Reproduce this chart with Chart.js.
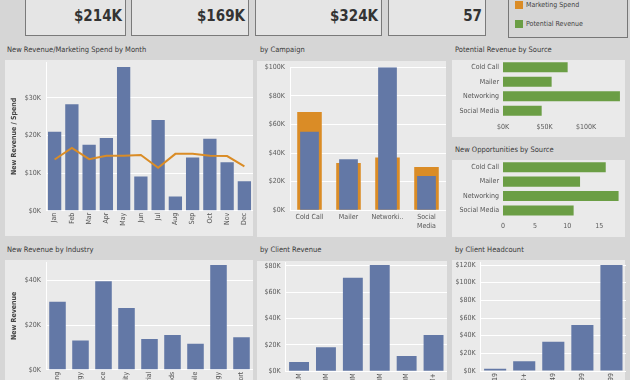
<!DOCTYPE html>
<html>
<head>
<meta charset="utf-8">
<script src="https://cdn.jsdelivr.net/npm/chart.js@4.4.1/dist/chart.umd.min.js"></script>
<style>
  html, body { margin: 0; padding: 0; width: 630px; height: 380px; overflow: hidden; background: #d6d6d6;
    font-family: "DejaVu Sans Condensed", "DejaVu Sans", sans-serif; }
  .card { position: absolute; top: -6px; height: 42px; background: #e5e5e5; border: 1px solid #7a7a7a; box-sizing: border-box; }
  .kpi { position: absolute; right: 3px; top: 12px; font-weight: bold; font-size: 15px; line-height: 18px; color: #333; }
  .legend { position: absolute; left: 508px; top: -6px; width: 120px; height: 44px; border: 1px solid #777; box-sizing: border-box; }
  .sw { position: absolute; left: 6px; width: 8px; height: 8px; }
  .lt { position: absolute; left: 17px; font-size: 7px; line-height: 9px; color: #444; }
  .panel { position: absolute; background: #eaeaea; }
  .title { position: absolute; font-size: 7.5px; line-height: 10px; color: #3a3a3a; white-space: nowrap; }
  .box { position: absolute; }
</style>
</head>
<body>

<div class="card" style="left:25px;width:101px"><div class="kpi" id="kpi1"></div></div>
<div class="card" style="left:131px;width:118px"><div class="kpi" id="kpi2"></div></div>
<div class="card" style="left:255px;width:127px"><div class="kpi" id="kpi3"></div></div>
<div class="card" style="left:388px;width:98px"><div class="kpi" id="kpi4"></div></div>

<div class="legend">
  <div class="sw" style="top:6px;background:#da8c26"></div><div class="lt" style="top:5.5px">Marketing Spend</div>
  <div class="sw" style="top:25px;background:#6b9e45"></div><div class="lt" style="top:24.5px">Potential Revenue</div>
</div>

<div class="title" style="left:7px;top:45px">New Revenue/Marketing Spend by Month</div>
<div class="title" style="left:260px;top:45px">by Campaign</div>
<div class="title" style="left:455px;top:45px">Potential Revenue by Source</div>
<div class="title" style="left:455px;top:145px">New Opportunities by Source</div>
<div class="title" style="left:7px;top:245px">New Revenue by Industry</div>
<div class="title" style="left:260px;top:245px">by Client Revenue</div>
<div class="title" style="left:455px;top:245px">by Client Headcount</div>

<div class="panel" style="left:5px;top:60px;width:248px;height:176px"></div>
<div class="panel" style="left:257px;top:61px;width:189px;height:176px"></div>
<div class="panel" style="left:452px;top:60px;width:173px;height:77px"></div>
<div class="panel" style="left:452px;top:160px;width:173px;height:77px"></div>
<div class="panel" style="left:5px;top:260px;width:248px;height:120px"></div>
<div class="panel" style="left:257px;top:261px;width:190px;height:119px"></div>
<div class="panel" style="left:452px;top:260px;width:173px;height:120px"></div>

<div class="box" style="left:5px;top:60px;width:248px;height:176px"><canvas id="cMonth"></canvas></div>
<div class="box" style="left:257px;top:61px;width:189px;height:176px"><canvas id="cCampaign"></canvas></div>
<div class="box" style="left:452px;top:60px;width:173px;height:77px"><canvas id="cPotential"></canvas></div>
<div class="box" style="left:452px;top:160px;width:173px;height:77px"><canvas id="cOpps"></canvas></div>
<div class="box" style="left:5px;top:260px;width:248px;height:120px"><canvas id="cIndustry"></canvas></div>
<div class="box" style="left:257px;top:261px;width:190px;height:119px"><canvas id="cClientRev"></canvas></div>
<div class="box" style="left:452px;top:260px;width:174px;height:120px"><canvas id="cHeadcount"></canvas></div>

<script>
// KPI numbers
const kpiValues = ['$214K', '$169K', '$324K', '57'];

// New revenue / marketing spend by month
const months = ['Jan', 'Feb', 'Mar', 'Apr', 'May', 'Jun', 'Jul', 'Aug', 'Sep', 'Oct', 'Nov', 'Dec'];
const monthRevenue = [21000, 28300, 17500, 19300, 38200, 9100, 24100, 3800, 14100, 19100, 12900, 7800];
const monthSpend = [13600, 16700, 13700, 14600, 14600, 14800, 11400, 15100, 15100, 14600, 14500, 11800];
const monthTicks = [0, 10000, 20000, 30000];

// by campaign
const campaigns = ['Cold Call', 'Mailer', 'Networking', 'Social Media'];
const campaignLabels = ['Cold Call', 'Mailer', 'Networki..', ['Social', 'Media']];
const campaignSpend = [68700, 33100, 36800, 30300];
const campaignRevenue = [54900, 35700, 100000, 24000];
const campaignTicks = [0, 20000, 40000, 60000, 80000, 100000];

// by source
const sources = ['Cold Call', 'Mailer', 'Networking', 'Social Media'];
const sourcePotential = [77900, 58600, 140900, 46600];
const potentialTicks = [0, 50000, 100000];
const sourceOpps = [16, 12, 18, 11];
const oppTicks = [0, 5, 10, 15];

// by industry
const industries = ['Advertising', 'Energy', 'Finance', 'Hospitality', 'Industrial', 'Consumer Goods', 'Automobile', 'Technology', 'Transport'];
const industryRevenue = [30400, 13100, 39600, 27600, 13700, 15500, 11600, 46900, 14500];
const industryTicks = [0, 20000, 40000];

// by client revenue
const revenueBands = ['< $1M', '$1M - $10M', '$10M - $50M', '$50M - $100M', '$100M - $500M', '$500M+'];
const bandRevenue = [7100, 18200, 71100, 80800, 11600, 27600];
const bandTicks = [0, 20000, 40000, 60000, 80000];

// by client headcount
const headcounts = ['1 - 19', '1000+', '20 - 49', '50 - 99', '100 - 999'];
const headcountRevenue = [2600, 10900, 33200, 52100, 120000];
const headcountTicks = [0, 20000, 40000, 60000, 80000, 100000, 120000];

kpiValues.forEach((v, i) => { document.getElementById('kpi' + (i + 1)).textContent = v; });

const BLUE = '#6378a6';
const ORANGE = '#da8c26';
const GREEN = '#6b9e45';

Chart.defaults.font.family = '"DejaVu Sans Condensed", "DejaVu Sans", sans-serif';
Chart.defaults.font.size = 7;
Chart.defaults.color = '#5a5a5a';
Chart.defaults.animation = false;
Chart.defaults.plugins.legend.display = false;
Chart.defaults.plugins.tooltip.enabled = false;

const money = v => '$' + (v / 1000) + 'K';

function noPad(s) {
  s.paddingTop = 0; s.paddingBottom = 0; s.paddingLeft = 0; s.paddingRight = 0;
}
function fixW(w) { return s => { s.width = w; noPad(s); }; }
function fixH(h) { return s => { s.height = h; noPad(s); }; }
function useTicks(list) { return s => { s.ticks = list.map(v => ({ value: v })); }; }

const gridWhite = { color: '#ffffff', lineWidth: 1, drawTicks: false };
const noGrid = { display: false, drawTicks: false };

function valueAxis(max, ticks, width, title) {
  const ax = {
    min: 0, max: max,
    grid: gridWhite,
    border: { display: true, color: '#ffffff' },
    ticks: { padding: 5, callback: money },
    afterBuildTicks: useTicks(ticks),
    afterFit: fixW(width)
  };
  if (title) {
    ax.title = { display: true, text: title, color: '#444', font: { size: 7, weight: 'bold' }, padding: { top: 5, bottom: 0 } };
  }
  return ax;
}

function rotatedAxis(height) {
  return {
    grid: noGrid,
    border: { display: true, color: '#ffffff' },
    ticks: { maxRotation: 90, minRotation: 90, autoSkip: false, padding: 2, color: '#555' },
    afterFit: fixH(height)
  };
}

// month chart
new Chart(document.getElementById('cMonth'), {
  data: {
    labels: months,
    datasets: [
      { type: 'line', data: monthSpend, borderColor: ORANGE, borderWidth: 2, pointRadius: 0, tension: 0, order: 1 },
      { type: 'bar', data: monthRevenue, backgroundColor: BLUE, barPercentage: 0.77, categoryPercentage: 1, order: 2 }
    ]
  },
  options: {
    responsive: true, maintainAspectRatio: false,
    layout: { padding: { top: 2, left: 0, right: 0, bottom: 0 } },
    scales: {
      x: rotatedAxis(25.3),
      y: valueAxis(39500, monthTicks, 41, 'New Revenue / Spend')
    }
  }
});

// campaign chart
new Chart(document.getElementById('cCampaign'), {
  type: 'bar',
  data: {
    labels: campaigns,
    datasets: [
      { data: campaignRevenue, backgroundColor: BLUE, barPercentage: 0.48, categoryPercentage: 1, grouped: false, order: 1 },
      { data: campaignSpend, backgroundColor: ORANGE, barPercentage: 0.63, categoryPercentage: 1, grouped: false, order: 2 }
    ]
  },
  options: {
    responsive: true, maintainAspectRatio: false,
    layout: { padding: { top: 6.3, left: 0, right: 0, bottom: 0 } },
    scales: {
      x: {
        grid: noGrid,
        border: { display: true, color: '#ffffff' },
        ticks: { padding: 3, color: '#555', maxRotation: 0, autoSkip: false, callback: (v, i) => campaignLabels[i] },
        afterFit: fixH(26.8)
      },
      y: valueAxis(100000, campaignTicks, 33)
    }
  }
});

function hbar(id, labels, values, max, ticks, fmt, xHeight, pad) {
  new Chart(document.getElementById(id), {
    type: 'bar',
    data: { labels: labels, datasets: [{ data: values, backgroundColor: GREEN, barPercentage: 0.7, categoryPercentage: 1 }] },
    options: {
      indexAxis: 'y',
      responsive: true, maintainAspectRatio: false,
      layout: { padding: 0 },
      scales: {
        y: {
          grid: noGrid, border: { display: false },
          ticks: { padding: 4, color: '#555' },
          afterFit: fixW(51)
        },
        x: {
          min: 0, max: max,
          grid: noGrid, border: { display: false },
          ticks: { padding: pad, callback: fmt },
          afterBuildTicks: useTicks(ticks),
          afterFit: fixH(xHeight)
        }
      }
    }
  });
}
hbar('cPotential', sources, sourcePotential, 147000, potentialTicks, money, 19, 5);
hbar('cOpps', sources, sourceOpps, 19, oppTicks, v => v, 19.3, 4.5);

function vbar(id, labels, values, max, ticks, yWidth, xHeight, padTop, pct, title) {
  new Chart(document.getElementById(id), {
    type: 'bar',
    data: { labels: labels, datasets: [{ data: values, backgroundColor: BLUE, barPercentage: pct, categoryPercentage: 1 }] },
    options: {
      responsive: true, maintainAspectRatio: false,
      layout: { padding: { top: padTop, left: 0, right: 0, bottom: 0 } },
      scales: {
        x: rotatedAxis(xHeight),
        y: valueAxis(max, ticks, yWidth, title)
      }
    }
  });
}
vbar('cIndustry', industries, industryRevenue, 48200, industryTicks, 41, 10.3, 2, 0.72, 'New Revenue');
vbar('cClientRev', revenueBands, bandRevenue, 83000, bandTicks, 28.6, 8.7, 1, 0.74);
vbar('cHeadcount', headcounts, headcountRevenue, 123400, headcountTicks, 28.6, 9, 2, 0.76);
</script>
</body>
</html>
